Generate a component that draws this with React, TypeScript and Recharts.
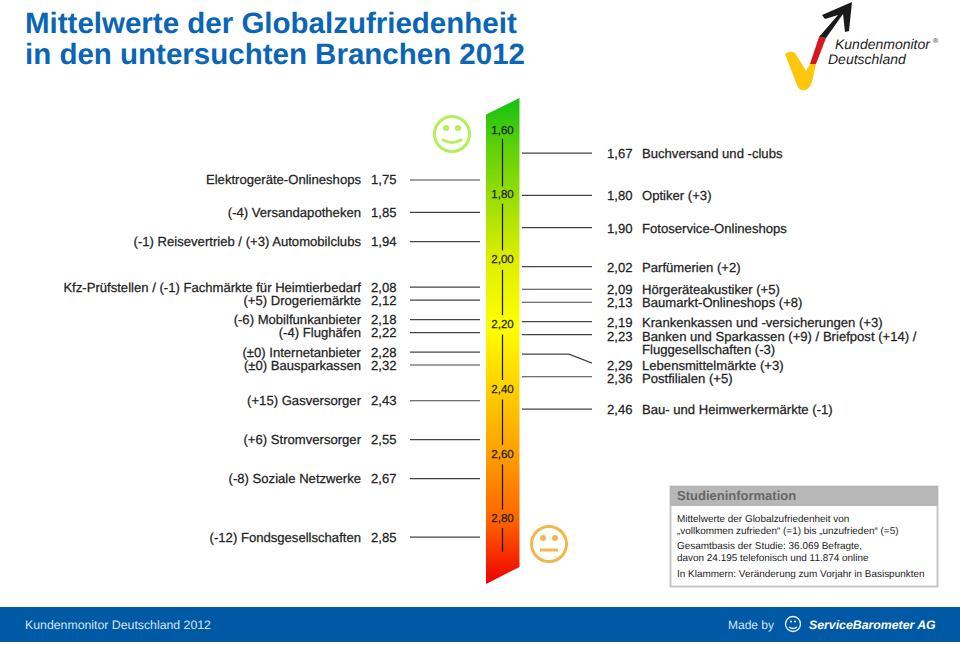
import React from "react";
import { ComposedChart, Area, Scatter, ReferenceLine, XAxis, YAxis } from "recharts";

// ---- data ----
const leftNames = [
  "Elektrogeräte-Onlineshops",
  "(-4) Versandapotheken",
  "(-1) Reisevertrieb / (+3) Automobilclubs",
  "Kfz-Prüfstellen / (-1) Fachmärkte für Heimtierbedarf",
  "(+5) Drogeriemärkte",
  "(-6) Mobilfunkanbieter",
  "(-4) Flughäfen",
  "(±0) Internetanbieter",
  "(±0) Bausparkassen",
  "(+15) Gasversorger",
  "(+6) Stromversorger",
  "(-8) Soziale Netzwerke",
  "(-12) Fondsgesellschaften",
];
const leftValues = [1.75, 1.85, 1.94, 2.08, 2.12, 2.18, 2.22, 2.28, 2.32, 2.43, 2.55, 2.67, 2.85];

const rightNames = [
  ["Buchversand und -clubs"],
  ["Optiker (+3)"],
  ["Fotoservice-Onlineshops"],
  ["Parfümerien (+2)"],
  ["Hörgeräteakustiker (+5)"],
  ["Baumarkt-Onlineshops (+8)"],
  ["Krankenkassen und -versicherungen (+3)"],
  ["Banken und Sparkassen (+9) / Briefpost (+14) /", "Fluggesellschaften (-3)"],
  ["Lebensmittelmärkte (+3)"],
  ["Postfilialen (+5)"],
  ["Bau- und Heimwerkermärkte (-1)"],
];
const rightValues = [1.67, 1.8, 1.9, 2.02, 2.09, 2.13, 2.19, 2.23, 2.29, 2.36, 2.46];

const scaleTicks = [1.6, 1.8, 2.0, 2.2, 2.4, 2.6, 2.8];
const scaleSegments = [
  [1.626, 1.773],
  [1.826, 1.97],
  [2.03, 2.17],
  [2.23, 2.37],
  [2.43, 2.57],
  [2.63, 2.77],
  [2.827, 2.9],
];
const bandTop = [1.548, 1.4974];
const bandBottom = [2.9946, 2.9422];

const fmt = (v: number) => v.toFixed(2).replace(".", ",");

// ---- layout ----
const W = 960;
const H = 646;
const FONT = "'Liberation Sans', Arial, sans-serif";
const BLUE = "#0a66b4";
const INK = "#222";
const LEADER = "#444";
const labelShift: Record<string, number> = { "2.29": 11, "2.23": 1.5, "2.36": 1.5 };
const BAND_X = [486, 519.5];
const LEFT_X = 410;
const RIGHT_X = 522;
const TICK_X = 502.5;

const bandData = BAND_X.map((x, i) => ({ x, band: [bandTop[i], bandBottom[i]] }));
const leftRows = leftValues.map((y, i) => ({ x: LEFT_X, y, name: leftNames[i] }));
const rightRows = rightValues.map((y, i) => ({ x: RIGHT_X, y, lines: rightNames[i] }));
const tickRows = scaleTicks.map((y) => ({ x: TICK_X, y }));

const textProps = {
  fontFamily: FONT,
  fontSize: 13.1,
  fill: INK,
  stroke: INK,
  strokeWidth: 0.25,
};

function LeftRow(p: any) {
  const { cx, cy, payload } = p;
  return (
    <g>
      <line x1={cx} x2={cx + 70} y1={cy} y2={cy} stroke={LEADER} strokeWidth={1.2} />
      <text x={cx - 49} y={cy + 4.5} textAnchor="end" {...textProps}>{payload.name}</text>
      <text x={cx - 39} y={cy + 4.5} {...textProps}>{fmt(payload.y)}</text>
    </g>
  );
}

function RightRow(p: any) {
  const { cx, cy, payload } = p;
  const shift = labelShift[String(payload.y)] ?? 0.5;
  const bent = payload.y === 2.29;
  return (
    <g>
      {bent ? (
        <polyline points={`${cx},${cy} ${cx + 47},${cy} ${cx + 70},${cy + 9}`} fill="none" stroke={LEADER} strokeWidth={1.2} />
      ) : (
        <line x1={cx} x2={cx + 70} y1={cy} y2={cy} stroke={LEADER} strokeWidth={1.2} />
      )}
      <text x={cx + 85} y={cy + shift + 4.5} {...textProps}>{fmt(payload.y)}</text>
      {payload.lines.map((l: string, i: number) => (
        <text key={l} x={cx + 120} y={cy + shift + 4.5 + i * 13.5} {...textProps}>{l}</text>
      ))}
    </g>
  );
}

function TickRow(p: any) {
  const { cx, cy, payload } = p;
  return (
    <text x={cx} y={cy + 3} textAnchor="middle" fontFamily={FONT} fontSize={11.5} fill="#222" stroke="#222" strokeWidth={0.25}>
      {fmt(payload.y)}
    </text>
  );
}

function Face({ cx, cy, color, happy }: { cx: number; cy: number; color: string; happy: boolean }) {
  return (
    <g fill="none" stroke={color} strokeWidth={3}>
      <circle cx={cx} cy={cy} r={17.5} />
      <circle cx={cx - 6} cy={cy - 6} r={3} fill={color} stroke="none" />
      <circle cx={cx + 6} cy={cy - 6} r={3} fill={color} stroke="none" />
      {happy ? (
        <path d={`M${cx - 9} ${cy + 6} Q${cx} ${cy + 11} ${cx + 9} ${cy + 6}`} strokeLinecap="round" />
      ) : (
        <path d={`M${cx - 9} ${cy + 6} L${cx + 9} ${cy + 6}`} />
      )}
    </g>
  );
}

function Decor() {
  return (
    <svg width={W} height={H} style={{ position: "absolute", left: 0, top: 0, pointerEvents: "none" }}>
      <text x={25} y={33} fontFamily={FONT} fontSize={29.5} fontWeight={700} fill={BLUE}>Mittelwerte der Globalzufriedenheit</text>
      <text x={25} y={64} fontFamily={FONT} fontSize={29.5} fontWeight={700} fill={BLUE}>in den untersuchten Branchen 2012</text>

      {/* logo */}
      <path d="M785 54 Q790 50 795 53 Q801 62 806 71 L810 64 L816 64 L812 82 Q808 92 802 90 Q798 90 795 80 Z" fill="#fdc70c" />
      <path d="M810 64 L816 64 L826 38 L819 37 Z" fill="#d9141c" />
      <path d="M852 2 L822 15 L825 19 L838 15 L819 37 L826 38 L843 14 L845 32 L849 31 Z" fill="#1a1a1a" />
      <text x={835} y={49} fontFamily={FONT} fontSize={14} fontStyle="italic" fill="#222">Kundenmonitor</text>
      <text x={933} y={43} fontFamily={FONT} fontSize={7} fill="#222">®</text>
      <text x={828} y={64} fontFamily={FONT} fontSize={14} fontStyle="italic" fill="#222">Deutschland</text>

      <Face cx={452} cy={134} color="#b4f05a" happy />
      <Face cx={549} cy={544} color="#f2b84b" happy={false} />

      {/* info box */}
      <rect x={670.5} y={486.5} width={267} height={100} fill="#fff" stroke="#c8c8c8" strokeWidth={2} />
      <rect x={670} y={486} width={268} height={20} fill="#b7b7b7" />
      <text x={677} y={500} fontFamily={FONT} fontSize={13} fontWeight={700} fill="#666">Studieninformation</text>
      {[
        ["Mittelwerte der Globalzufriedenheit von", 522],
        ["„vollkommen zufrieden“ (=1) bis „unzufrieden“ (=5)", 534],
        ["Gesamtbasis der Studie: 36.069 Befragte,", 549],
        ["davon 24.195 telefonisch und 11.874 online", 561],
        ["In Klammern: Veränderung zum Vorjahr in Basispunkten", 577],
      ].map(([t, y]) => (
        <text key={t as string} x={677} y={y as number} fontFamily={FONT} fontSize={9.95} fill="#222">{t}</text>
      ))}

      {/* footer */}
      <rect x={0} y={607} width={W} height={35} fill="#0059a5" />
      <text x={25} y={628.5} fontFamily={FONT} fontSize={12.3} fill="#d5e4f2">Kundenmonitor Deutschland 2012</text>
      <text x={728} y={628.5} fontFamily={FONT} fontSize={12} fill="#d5e4f2">Made by</text>
      <g fill="none" stroke="#e8f0f8" strokeWidth={1.3}>
        <circle cx={793} cy={624} r={7.5} />
        <path d="M789 627 Q793 630 797 627" />
      </g>
      <circle cx={791} cy={621.5} r={1} fill="#e8f0f8" />
      <circle cx={795} cy={621.5} r={1} fill="#e8f0f8" />
      <text x={809} y={628.5} fontFamily={FONT} fontSize={12.3} fontWeight={700} fontStyle="italic" fill="#fff">ServiceBarometer AG</text>
    </svg>
  );
}

export default function App() {
  return (
    <div style={{ position: "absolute", left: 0, top: 0, width: W, height: H, background: "#fff", overflow: "hidden", textRendering: "geometricPrecision" }}>
      <ComposedChart width={W} height={H} margin={{ top: 0, right: 0, bottom: 0, left: 0 }}>
        <defs>
          <linearGradient id="scaleFill" x1="0" y1="0" x2="0" y2="1">
            <stop offset="0" stopColor="#12c212" />
            <stop offset="0.1" stopColor="#5fd00a" />
            <stop offset="0.33" stopColor="#ddee00" />
            <stop offset="0.47" stopColor="#ffff00" />
            <stop offset="0.6" stopColor="#ffd000" />
            <stop offset="0.73" stopColor="#ffa000" />
            <stop offset="0.865" stopColor="#ff6600" />
            <stop offset="1" stopColor="#ee0000" />
          </linearGradient>
        </defs>
        <XAxis xAxisId="x" type="number" dataKey="x" domain={[0, W]} hide allowDataOverflow />
        <YAxis yAxisId="left" type="number" domain={[1.1955, 3.1856]} reversed hide allowDataOverflow />
        <YAxis yAxisId="right" type="number" domain={[1.1972, 3.191]} reversed hide allowDataOverflow />
        <Area
          data={bandData}
          xAxisId="x"
          yAxisId="left"
          dataKey="band"
          type="linear"
          fill="url(#scaleFill)"
          fillOpacity={1}
          stroke="none"
          dot={false}
          activeDot={false}
          isAnimationActive={false}
        />
        {scaleSegments.map(([a, b]) => (
          <ReferenceLine
            key={a}
            xAxisId="x"
            yAxisId="right"
            segment={[{ x: TICK_X, y: a }, { x: TICK_X, y: b }]}
            stroke="#111"
            strokeWidth={1.2}
          />
        ))}
        <Scatter data={tickRows} xAxisId="x" yAxisId="right" dataKey="y" shape={TickRow} isAnimationActive={false} />
        <Scatter data={leftRows} xAxisId="x" yAxisId="left" dataKey="y" shape={LeftRow} isAnimationActive={false} />
        <Scatter data={rightRows} xAxisId="x" yAxisId="right" dataKey="y" shape={RightRow} isAnimationActive={false} />
      </ComposedChart>
      <Decor />
    </div>
  );
}
